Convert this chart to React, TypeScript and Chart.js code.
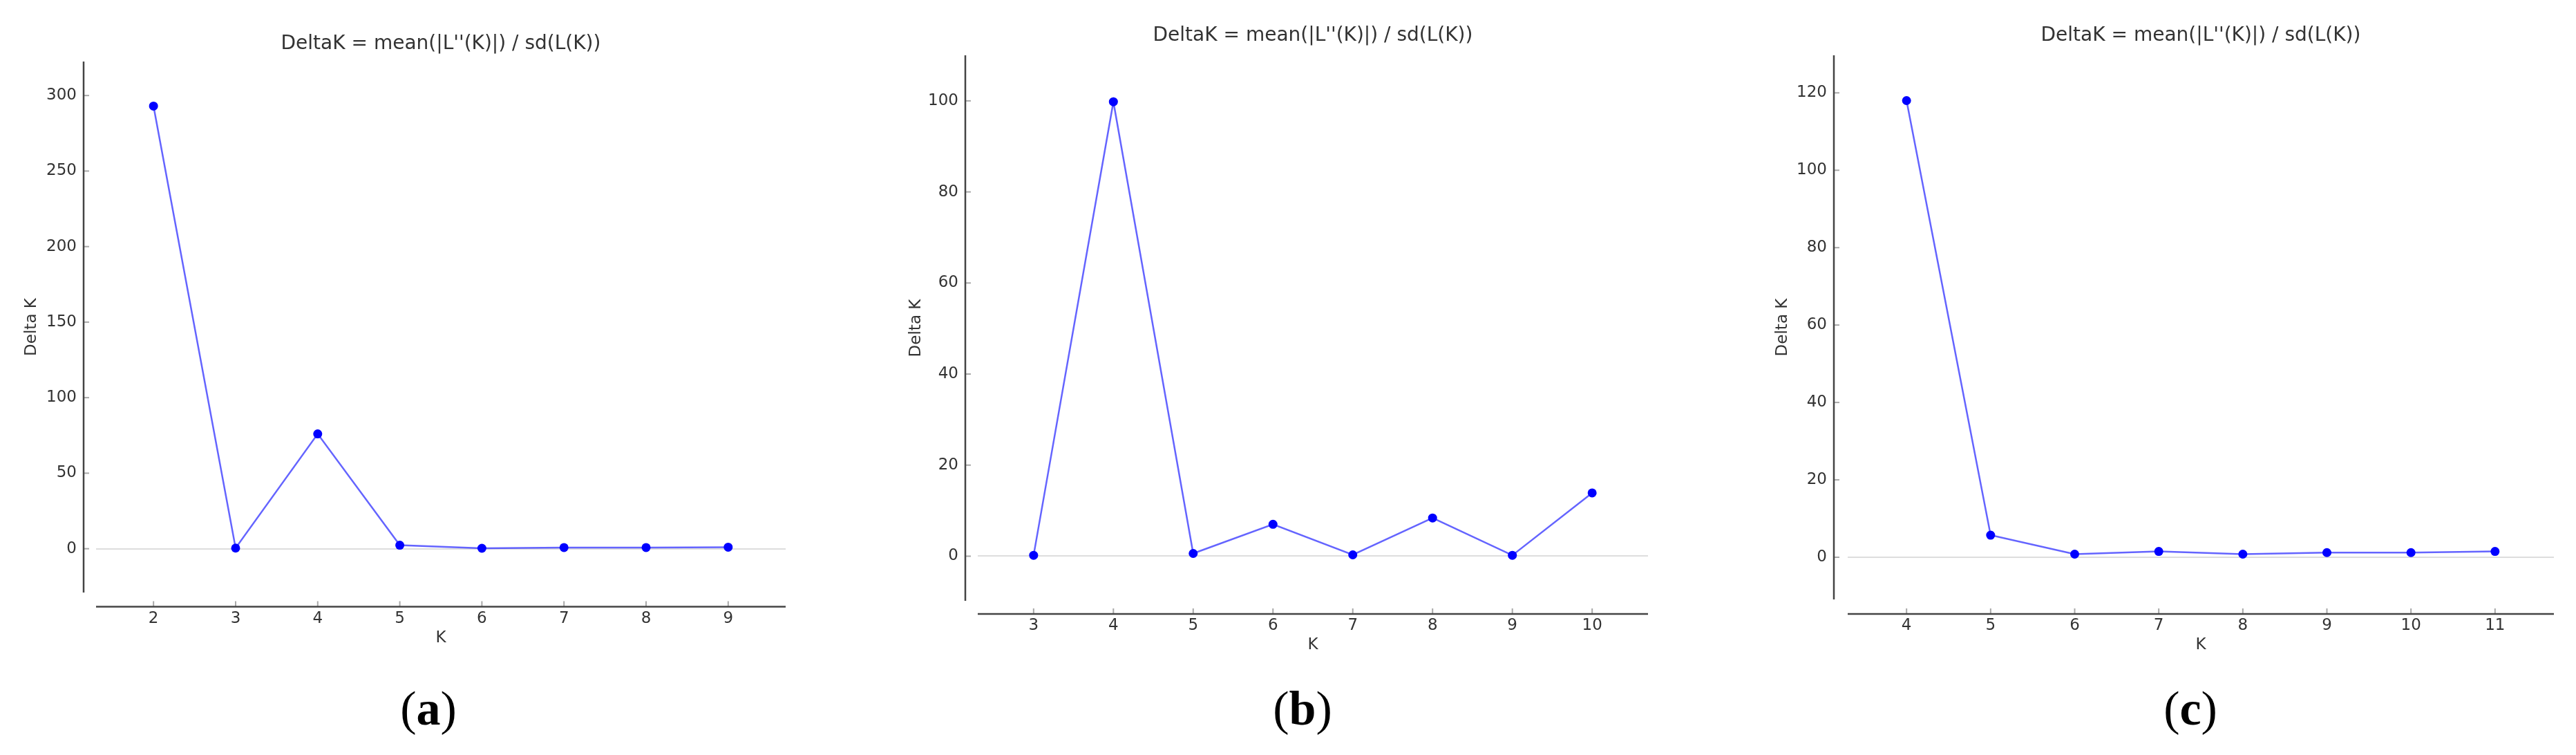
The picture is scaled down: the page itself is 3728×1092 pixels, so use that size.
import React, { useEffect, useRef } from 'react';
import { Chart, registerables } from 'chart.js';

Chart.register(...registerables);

// ---------- data ----------
const TITLE = "DeltaK = mean(|L''(K)|) / sd(L(K))";
const X_LABEL = 'K';
const Y_LABEL = 'Delta K';

const kA = [2, 3, 4, 5, 6, 7, 8, 9];
const deltaA = [293, 0.4, 76, 2.3, 0.3, 0.8, 0.8, 1.0];
const yTicksA = [0, 50, 100, 150, 200, 250, 300];
const xRangeA = [1.3, 9.7];
const yRangeA = [-29, 322.5];

const kB = [3, 4, 5, 6, 7, 8, 9, 10];
const deltaB = [0.2, 99.8, 0.6, 7.0, 0.3, 8.4, 0.2, 13.9];
const yTicksB = [0, 20, 40, 60, 80, 100];
const xRangeB = [2.3, 10.7];
const yRangeB = [-9.8, 110];

const kC = [4, 5, 6, 7, 8, 9, 10, 11];
const deltaC = [118, 5.7, 0.8, 1.5, 0.8, 1.2, 1.2, 1.5];
const yTicksC = [0, 20, 40, 60, 80, 100, 120];
const xRangeC = [3.3, 11.7];
const yRangeC = [-10.9, 129.7];

const panelLetters = ['a', 'b', 'c'];

// ---------- layout / style ----------
const H = 1092;
const FONT = "'DejaVu Sans', 'Noto Sans', sans-serif";
const TITLE_SIZE = 28;
const TICK_SIZE = 23;
const LABEL_SIZE = 23;
const TEXT = '#333333';

type Layout = {
  left: number; width: number;
  area: { l: number; r: number; t: number; b: number };
  titleY: number; yLabelX: number; xTickY: number; xLabelY: number;
  yTickPad: number; spineOffX: number; spineOffY: number; letterX: number;
};

const layouts: Layout[] = [
  { left: 0, width: 1240, area: { l: 139, r: 1137, t: 89, b: 857 }, titleY: 64, yLabelX: 46, xTickY: 895, xLabelY: 923, yTickPad: 28, spineOffX: 18, spineOffY: 20.5, letterX: 620 },
  { left: 1240, width: 1240, area: { l: 175, r: 1145, t: 80, b: 869 }, titleY: 52, yLabelX: 86, xTickY: 905, xLabelY: 933, yTickPad: 28, spineOffX: 18, spineOffY: 19, letterX: 645 },
  { left: 2480, width: 1248, area: { l: 194, r: 1216, t: 80, b: 867 }, titleY: 52, yLabelX: 100, xTickY: 905, xLabelY: 933, yTickPad: 30, spineOffX: 20, spineOffY: 21, letterX: 690 },
];

const panelData = [
  { k: kA, v: deltaA, yTicks: yTicksA, xr: xRangeA, yr: yRangeA },
  { k: kB, v: deltaB, yTicks: yTicksB, xr: xRangeB, yr: yRangeB },
  { k: kC, v: deltaC, yTicks: yTicksC, xr: xRangeC, yr: yRangeC },
];

const spinePlugin = {
  id: 'spines',
  afterDraw(chart: any, _args: any, opts: any) {
    const { ctx, chartArea: a, scales } = chart;
    const sx = a.left - opts.offX;
    const sy = a.bottom + opts.offY;
    ctx.save();
    ctx.strokeStyle = '#a8a8a8';
    ctx.lineWidth = 2;
    scales.y.ticks.forEach((t: any) => {
      const py = scales.y.getPixelForValue(t.value);
      ctx.beginPath(); ctx.moveTo(sx, py); ctx.lineTo(sx + 8, py); ctx.stroke();
    });
    scales.x.ticks.forEach((t: any) => {
      const px = scales.x.getPixelForValue(t.value);
      ctx.beginPath(); ctx.moveTo(px, sy); ctx.lineTo(px, sy - 8); ctx.stroke();
    });
    ctx.strokeStyle = '#444444';
    ctx.lineWidth = 2.5;
    ctx.beginPath(); ctx.moveTo(sx, a.top); ctx.lineTo(sx, a.bottom); ctx.stroke();
    ctx.beginPath(); ctx.moveTo(a.left, sy); ctx.lineTo(a.right, sy); ctx.stroke();
    ctx.restore();
  },
};

function Panel({ idx }: { idx: number }) {
  const ref = useRef<HTMLCanvasElement | null>(null);
  const L = layouts[idx];
  const D = panelData[idx];

  useEffect(() => {
    if (!ref.current) return;
    const titleLH = TITLE_SIZE * 1.2;
    const labLH = LABEL_SIZE * 1.2;
    const tickLH = TICK_SIZE * 1.2;
    const chart = new Chart(ref.current, {
      type: 'line',
      data: {
        datasets: [
          {
            data: D.k.map((k, i) => ({ x: k, y: D.v[i] })),
            borderColor: 'rgba(40,40,255,0.72)',
            borderWidth: 2.5,
            pointRadius: 6.5,
            pointBackgroundColor: '#0000ff',
            pointBorderColor: '#0000ff',
            pointBorderWidth: 0,
            tension: 0,
            fill: false,
            clip: false,
          },
        ],
      },
      options: {
        animation: false,
        responsive: false,
        devicePixelRatio: 1,
        layout: { padding: { left: 0, top: 0, bottom: 0, right: L.width - L.area.r } },
        plugins: {
          legend: { display: false },
          tooltip: { enabled: false },
          title: {
            display: true,
            text: TITLE,
            fullSize: false,
            color: TEXT,
            font: { family: FONT, size: TITLE_SIZE, weight: 'normal', lineHeight: 1.2 },
            padding: { top: L.titleY - titleLH / 2, bottom: L.area.t - L.titleY - titleLH / 2 },
          },
          spines: { offX: L.spineOffX, offY: L.spineOffY },
        } as any,
        scales: {
          x: {
            type: 'linear',
            min: D.xr[0],
            max: D.xr[1],
            afterBuildTicks: (s: any) => { s.ticks = D.k.map((v) => ({ value: v })); },
            afterFit: (s: any) => { s.height = H - L.area.b; },
            grid: { display: false, drawTicks: false },
            border: { display: false },
            ticks: {
              color: TEXT,
              font: { family: FONT, size: TICK_SIZE, lineHeight: 1.2 },
              padding: L.xTickY - L.area.b - tickLH / 2,
              maxRotation: 0,
              autoSkip: false,
              callback: (v: any) => String(v),
            },
            title: {
              display: true,
              text: X_LABEL,
              color: TEXT,
              font: { family: FONT, size: LABEL_SIZE, lineHeight: 1.2 },
              padding: { top: 0, bottom: H - L.xLabelY - labLH / 2 },
            },
          },
          y: {
            type: 'linear',
            min: D.yr[0],
            max: D.yr[1],
            afterBuildTicks: (s: any) => { s.ticks = D.yTicks.map((v) => ({ value: v })); },
            afterFit: (s: any) => { s.width = L.area.l; },
            grid: {
              drawTicks: false,
              lineWidth: 2,
              color: (c: any) => (c.tick && c.tick.value === 0 ? '#dddddd' : 'rgba(0,0,0,0)'),
            },
            border: { display: false },
            ticks: {
              color: TEXT,
              font: { family: FONT, size: TICK_SIZE, lineHeight: 1.2 },
              padding: L.yTickPad,
              autoSkip: false,
              callback: (v: any) => String(v),
            },
            title: {
              display: true,
              text: Y_LABEL,
              color: TEXT,
              font: { family: FONT, size: LABEL_SIZE, lineHeight: 1.2 },
              padding: { top: L.yLabelX - labLH / 2, bottom: 0 },
            },
          },
        },
      } as any,
      plugins: [spinePlugin as any],
    });
    return () => chart.destroy();
  }, [idx]);

  return (
    <div style={{ position: 'absolute', left: L.left, top: 0, width: L.width, height: H }}>
      <canvas ref={ref} width={L.width} height={H} style={{ display: 'block', width: L.width, height: H }} />
      <div
        style={{
          position: 'absolute',
          left: L.letterX - 100,
          width: 200,
          top: 990,
          height: 70,
          lineHeight: '70px',
          textAlign: 'center',
          fontFamily: "'Liberation Serif', 'DejaVu Serif', serif",
          fontSize: 70,
          color: '#000',
          whiteSpace: 'nowrap',
        }}
      >
        (<b>{panelLetters[idx]}</b>)
      </div>
    </div>
  );
}

export default function App() {
  return (
    <div style={{ position: 'absolute', left: 0, top: 0, width: 3728, height: H, background: '#ffffff', overflow: 'hidden' }}>
      <Panel idx={0} />
      <Panel idx={1} />
      <Panel idx={2} />
    </div>
  );
}
